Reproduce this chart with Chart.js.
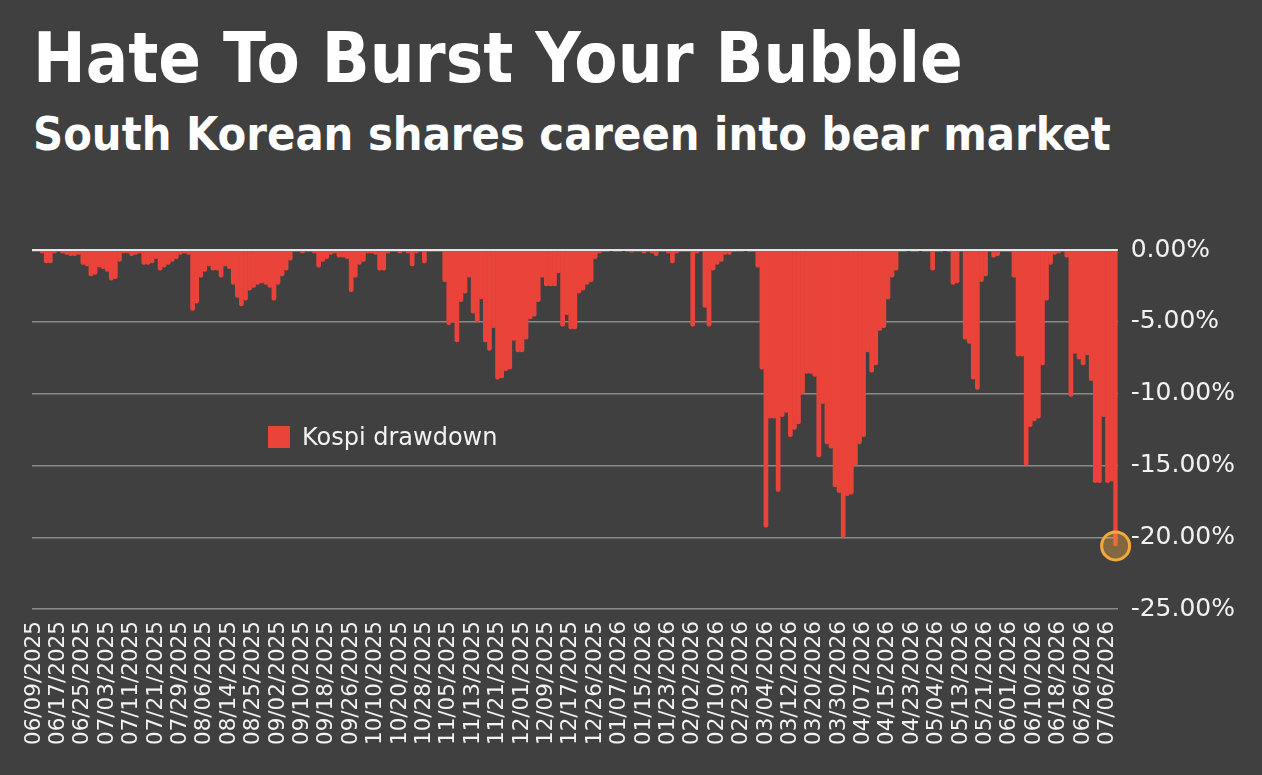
<!DOCTYPE html>
<html>
<head>
<meta charset="utf-8">
<title>Hate To Burst Your Bubble</title>
<script src="https://cdn.jsdelivr.net/npm/chart.js@4.4.1/dist/chart.umd.min.js"></script>
<style>
  html, body { margin: 0; padding: 0; background: #404040; }
  #wrap { position: relative; width: 1262px; height: 775px; overflow: hidden; background: #404040; }
  .head { position: absolute; left: 33px; margin: 0; color: #fff; white-space: nowrap;
          font-family: "DejaVu Sans Condensed", "DejaVu Sans", sans-serif; font-stretch: condensed;
          font-weight: bold; line-height: 1; }
  #title { top: 23px; font-size: 70px; }
  #subtitle { top: 111px; font-size: 46.5px; }
  #canvas_div { position: absolute; left: 0; top: 0; width: 1262px; height: 775px; }
  #legend { position: absolute; left: 268px; top: 423px; display: flex; align-items: center;
            font-family: "DejaVu Sans", sans-serif; font-size: 24px; color: #f2f2f2; }
  #legend span.box { display: inline-block; width: 22px; height: 22px; margin-right: 12px; }
</style>
</head>
<body>
<div id="wrap">
  <h1 class="head" id="title">Hate To Burst Your Bubble</h1>
  <h2 class="head" id="subtitle">South Korean shares careen into bear market</h2>
  <div id="canvas_div"><canvas id="myChart"></canvas></div>
  <div id="legend"></div>
</div>
<script>
// trading days shown as categories
const dates = [
  "06/09/2025","06/10/2025","06/11/2025","06/12/2025","06/13/2025","06/16/2025","06/17/2025","06/18/2025","06/19/2025","06/20/2025",
  "06/23/2025","06/24/2025","06/25/2025","06/26/2025","06/27/2025","06/30/2025",
  "07/01/2025","07/02/2025","07/03/2025","07/04/2025","07/07/2025","07/08/2025","07/09/2025","07/10/2025","07/11/2025","07/14/2025",
  "07/15/2025","07/16/2025","07/17/2025","07/18/2025","07/21/2025","07/22/2025","07/23/2025","07/24/2025","07/25/2025","07/28/2025",
  "07/29/2025","07/30/2025","07/31/2025",
  "08/01/2025","08/04/2025","08/05/2025","08/06/2025","08/07/2025","08/08/2025","08/11/2025","08/12/2025","08/13/2025","08/14/2025",
  "08/18/2025","08/19/2025","08/20/2025","08/21/2025","08/22/2025","08/25/2025","08/26/2025","08/27/2025","08/28/2025","08/29/2025",
  "09/01/2025","09/02/2025","09/03/2025","09/04/2025","09/05/2025","09/08/2025","09/09/2025","09/10/2025","09/11/2025","09/12/2025",
  "09/15/2025","09/16/2025","09/17/2025","09/18/2025","09/19/2025","09/22/2025","09/23/2025","09/24/2025","09/25/2025","09/26/2025",
  "09/29/2025","09/30/2025",
  "10/01/2025","10/02/2025","10/03/2025","10/10/2025","10/13/2025","10/14/2025","10/15/2025","10/16/2025","10/17/2025","10/20/2025",
  "10/21/2025","10/22/2025","10/23/2025","10/24/2025","10/27/2025","10/28/2025","10/29/2025","10/30/2025","10/31/2025",
  "11/03/2025","11/04/2025","11/05/2025","11/06/2025","11/07/2025","11/10/2025","11/11/2025","11/12/2025","11/13/2025","11/14/2025",
  "11/17/2025","11/18/2025","11/19/2025","11/20/2025","11/21/2025","11/24/2025","11/25/2025","11/26/2025","11/27/2025","11/28/2025",
  "12/01/2025","12/02/2025","12/03/2025","12/04/2025","12/05/2025","12/08/2025","12/09/2025","12/10/2025","12/11/2025","12/12/2025",
  "12/15/2025","12/16/2025","12/17/2025","12/18/2025","12/19/2025","12/22/2025","12/23/2025","12/24/2025","12/26/2025","12/29/2025",
  "12/30/2025",
  "01/02/2026","01/05/2026","01/06/2026","01/07/2026","01/08/2026","01/09/2026","01/12/2026","01/13/2026","01/14/2026","01/15/2026",
  "01/16/2026","01/19/2026","01/20/2026","01/21/2026","01/22/2026","01/23/2026","01/26/2026","01/27/2026","01/28/2026","01/29/2026",
  "01/30/2026",
  "02/02/2026","02/03/2026","02/04/2026","02/05/2026","02/06/2026","02/09/2026","02/10/2026","02/11/2026","02/12/2026","02/13/2026",
  "02/19/2026","02/20/2026","02/23/2026","02/24/2026","02/25/2026","02/26/2026","02/27/2026",
  "03/03/2026","03/04/2026","03/05/2026","03/06/2026","03/09/2026","03/10/2026","03/11/2026","03/12/2026","03/13/2026","03/16/2026",
  "03/17/2026","03/18/2026","03/19/2026","03/20/2026","03/23/2026","03/24/2026","03/25/2026","03/26/2026","03/27/2026","03/30/2026",
  "03/31/2026",
  "04/01/2026","04/02/2026","04/03/2026","04/06/2026","04/07/2026","04/08/2026","04/09/2026","04/10/2026","04/13/2026","04/14/2026",
  "04/15/2026","04/16/2026","04/17/2026","04/20/2026","04/21/2026","04/22/2026","04/23/2026","04/24/2026","04/27/2026","04/28/2026",
  "04/29/2026","04/30/2026",
  "05/04/2026","05/06/2026","05/07/2026","05/08/2026","05/11/2026","05/12/2026","05/13/2026","05/14/2026","05/15/2026","05/18/2026",
  "05/19/2026","05/20/2026","05/21/2026","05/22/2026","05/26/2026","05/27/2026","05/28/2026","05/29/2026",
  "06/01/2026","06/02/2026","06/04/2026","06/05/2026","06/08/2026","06/09/2026","06/10/2026","06/11/2026","06/12/2026","06/15/2026",
  "06/16/2026","06/17/2026","06/18/2026","06/19/2026","06/22/2026","06/23/2026","06/24/2026","06/25/2026","06/26/2026","06/29/2026",
  "06/30/2026",
  "07/01/2026","07/02/2026","07/03/2026","07/06/2026","07/07/2026","07/08/2026"
];

// dates printed under the axis
const tickDates = [
  "06/09/2025","06/17/2025","06/25/2025","07/03/2025","07/11/2025","07/21/2025","07/29/2025","08/06/2025","08/14/2025",
  "08/25/2025","09/02/2025","09/10/2025","09/18/2025","09/26/2025","10/10/2025","10/20/2025","10/28/2025","11/05/2025",
  "11/13/2025","11/21/2025","12/01/2025","12/09/2025","12/17/2025","12/26/2025","01/07/2026","01/15/2026","01/23/2026",
  "02/02/2026","02/10/2026","02/23/2026","03/04/2026","03/12/2026","03/20/2026","03/30/2026","04/07/2026","04/15/2026",
  "04/23/2026","05/04/2026","05/13/2026","05/21/2026","06/01/2026","06/10/2026","06/18/2026","06/26/2026","07/06/2026"
];

// Kospi drawdown from peak, in %
const drawdown = [
  -0.1, -0.1, -0.2, -0.9, -0.9, -0.2, -0.1, -0.2, -0.3, -0.4,
  -0.4, -0.3, -1.0, -1.1, -1.8, -1.7, -1.2, -1.3, -1.5, -2.1,
  -2.0, -0.8, -0.2, -0.2, -0.4, -0.3, -0.2, -1.0, -1.0, -0.9,
  -0.6, -1.4, -1.2, -1.0, -0.8, -0.6, -0.3, -0.2, -0.3, -4.2,
  -3.7, -1.9, -1.5, -1.1, -1.4, -1.4, -1.9, -1.1, -1.3, -2.4,
  -3.3, -3.9, -3.5, -2.8, -2.6, -2.4, -2.3, -2.4, -2.6, -3.5,
  -2.4, -1.8, -1.4, -0.7, -0.1, -0.1, -0.2, -0.1, -0.1, -0.2,
  -1.2, -0.8, -0.6, -0.3, -0.2, -0.5, -0.5, -0.6, -2.9, -1.9,
  -1.0, -0.8, -0.2, -0.2, -0.3, -1.4, -1.4, -0.2, -0.1, -0.1,
  -0.2, -0.1, -0.2, -1.1, -0.2, -0.1, -0.9, -0.1, -0.1, -0.1,
  -0.1, -2.2, -5.2, -5.0, -6.4, -3.6, -3.0, -1.9, -4.4, -5.0,
  -3.4, -6.4, -7.0, -5.4, -9.0, -8.9, -8.4, -8.3, -6.3, -7.1,
  -7.1, -6.2, -4.8, -4.6, -3.6, -1.9, -2.5, -2.5, -2.5, -1.6,
  -5.3, -4.5, -5.5, -5.5, -3.0, -2.8, -2.4, -2.2, -0.6, -0.2,
  -0.1, -0.1, -0.05, -0.1, -0.1, -0.05, -0.1, -0.15, -0.1, -0.1,
  -0.2, -0.1, -0.2, -0.4, -0.1, -0.1, -0.2, -0.9, -0.2, -0.1,
  -0.1, -0.1, -5.3, -0.2, -0.1, -4.0, -5.3, -1.4, -1.0, -0.8,
  -0.3, -0.3, -0.1, -0.1, -0.1, -0.05, -0.1, -0.1, -1.2, -8.3,
  -19.3, -11.7, -11.7, -16.8, -11.6, -11.3, -13.0, -12.5, -12.1, -10.0,
  -8.6, -8.6, -8.8, -14.4, -10.7, -13.5, -13.8, -16.5, -16.9, -20.0,
  -17.1, -17.0, -15.0, -13.5, -13.0, -7.1, -8.5, -8.0, -5.6, -5.4,
  -3.4, -1.9, -1.4, -0.1, -0.1, -0.05, -0.1, -0.1, -0.05, -0.1,
  -0.1, -1.4, -0.1, -0.1, -0.05, -0.1, -2.4, -2.3, -0.1, -6.2,
  -6.5, -9.0, -9.7, -2.2, -1.8, -0.1, -0.5, -0.4, -0.1, -0.1,
  -0.1, -1.9, -7.4, -7.4, -15.0, -12.3, -11.9, -11.7, -8.0, -3.5,
  -1.0, -0.3, -0.2, -0.1, -0.5, -10.2, -7.2, -7.6, -8.0, -7.3,
  -9.1, -16.2, -16.2, -11.6, -16.2, -16.1, -20.6
];

const yTicks = [0, -5, -10, -15, -20, -25];

const barRed = "#e9433a";
const tickColor = "#f2f2f2";

const lastIdx = drawdown.length - 1;
const marker = drawdown.map((v, i) => (i === lastIdx ? v : null));

// white zero line on top of the bars
const zeroLine = {
  id: "zeroLine",
  afterDatasetsDraw(chart) {
    const { ctx, chartArea, scales } = chart;
    const y = scales.y.getPixelForValue(0);
    ctx.save();
    ctx.strokeStyle = "#e6e6e6";
    ctx.lineWidth = 2;
    ctx.beginPath();
    ctx.moveTo(chartArea.left, y);
    ctx.lineTo(chartArea.right, y);
    ctx.stroke();
    ctx.restore();
  }
};

const config = {
  type: "bar",
  data: {
    labels: dates,
    datasets: [
      {
        type: "line",
        label: "latest",
        data: marker,
        showLine: false,
        pointRadius: 14,
        pointHoverRadius: 14,
        pointBorderWidth: 3,
        pointBorderColor: "#f3aa3c",
        pointBackgroundColor: "rgba(243,170,60,0.38)",
        clip: false,
        order: 0
      },
      {
        label: "Kospi drawdown",
        data: drawdown,
        backgroundColor: barRed,
        borderWidth: 0,
        borderRadius: 2,
        barPercentage: 1,
        categoryPercentage: 1,
        order: 1
      }
    ]
  },
  options: {
    responsive: true,
    maintainAspectRatio: false,
    animation: false,
    layout: { padding: { left: 32, right: 14, top: 250, bottom: 18 } },
    plugins: {
      legend: { display: false },
      tooltip: { enabled: false }
    },
    scales: {
      x: {
        grid: { display: false, drawTicks: false },
        border: { display: false },
        ticks: {
          autoSkip: false,
          minRotation: 90,
          maxRotation: 90,
          padding: 12,
          color: tickColor,
          font: { family: "DejaVu Sans", size: 21.5 },
          callback: (v, i) => (tickDates.includes(dates[i]) ? dates[i] : "")
        }
      },
      y: {
        position: "right",
        min: -25,
        max: 0,
        afterBuildTicks: (axis) => { axis.ticks = yTicks.map((v) => ({ value: v })); },
        grid: { color: "#8a8a8a", lineWidth: 1.5, drawTicks: false },
        border: { display: false },
        ticks: {
          padding: 13,
          color: tickColor,
          font: { family: "DejaVu Sans", size: 25 },
          callback: (v) => v.toFixed(2) + "%"
        }
      }
    }
  },
  plugins: [zeroLine]
};

const myChart = new Chart(document.getElementById("myChart"), config);

// legend built from the bar dataset
const bars = myChart.data.datasets[1];
document.getElementById("legend").innerHTML =
  `<span class="box" style="background:${bars.backgroundColor}"></span>${bars.label}`;
</script>
</body>
</html>
